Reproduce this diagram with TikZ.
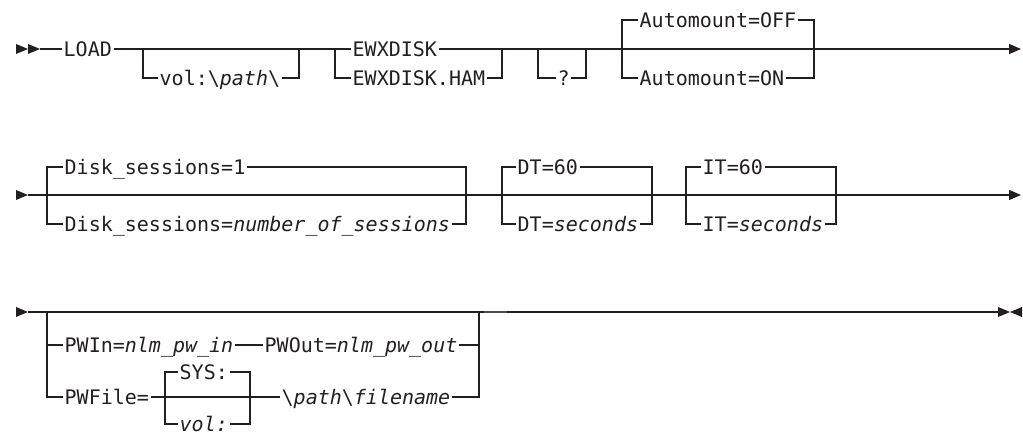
\documentclass[tikz,border=0pt]{standalone}
\usepackage{fontspec}
\usetikzlibrary{arrows.meta}
\newfontfamily\railfont{DejaVu Sans Mono}
\definecolor{ink}{HTML}{231F20}

\begin{document}
\begin{tikzpicture}[x=1pt,y=-1pt,
  rail/.style={draw=ink, line width=1.1pt, line join=miter},
  tag/.style={anchor=west, inner xsep=1.5pt, inner ysep=0pt,
    text height=18pt, text depth=3.4pt, text=ink,
    font={\railfont\fontsize{20pt}{24pt}\selectfont}},
  tip/.style={-{Triangle[length=12pt,width=10pt]}}]
\useasboundingbox (0,0) rectangle (1023,435);

% ---------- first line ----------
\coordinate (r1s) at (40,49);
\coordinate (r1e) at (1021,49);
\fill[ink] (16,44) -- (28,49) -- (16,54) -- cycle;
\fill[ink] (28,44) -- (40,49) -- (28,54) -- cycle;

\node[tag] (load) at (62,49) {LOAD};
\node[tag] (vol1) at (158,78) {vol:\textbackslash\textit{path}\textbackslash};
\coordinate (v1l) at (143,49);
\coordinate (v1r) at (299,49);

\node[tag] (ewx) at (351,49) {EWXDISK};
\node[tag] (ham) at (351,78) {EWXDISK.HAM};
\coordinate (e1l) at (335,49);
\coordinate (e1r) at (502,49);

\node[tag] (q) at (556,78) {?};
\coordinate (q1l) at (538,49);
\coordinate (q1r) at (586,49);

\node[tag] (aoff) at (638,20) {Automount=OFF};
\node[tag] (aon) at (638,78) {Automount=ON};
\coordinate (a1l) at (622,49);
\coordinate (a1r) at (814,49);

\draw[rail] (r1s) -- (load.west);
\draw[rail] (load.east) -- (ewx.west);
\draw[rail] (v1l) |- (vol1.west);
\draw[rail] (vol1.east) -| (v1r);
\draw[rail] (e1l) |- (ham.west);
\draw[rail] (ham.east) -| (e1r);
\draw[rail] (q1l) |- (q.west);
\draw[rail] (q.east) -| (q1r);
\draw[rail] (a1l) |- (aoff.west);
\draw[rail] (aoff.east) -| (a1r);
\draw[rail] (a1l) |- (aon.west);
\draw[rail] (aon.east) -| (a1r);
\draw[rail,tip] (ewx.east) -- (r1e);

% ---------- second line ----------
\coordinate (r2s) at (28,195);
\coordinate (r2e) at (1021,195);
\fill[ink] (16,190) -- (28,195) -- (16,200) -- cycle;

\node[tag] (ds1) at (63,167) {Disk\_sessions=1};
\node[tag] (dsn) at (63,224) {Disk\_sessions=\textit{number\_of\_sessions}};
\coordinate (d2l) at (47,195);
\coordinate (d2r) at (466,195);

\node[tag] (dt60) at (516,167) {DT=60};
\node[tag] (dts) at (516,224) {DT=\textit{seconds}};
\coordinate (t2l) at (502,195);
\coordinate (t2r) at (652,195);

\node[tag] (it60) at (701,167) {IT=60};
\node[tag] (its) at (701,224) {IT=\textit{seconds}};
\coordinate (i2l) at (686,195);
\coordinate (i2r) at (836,195);

\draw[rail,tip] (r2s) -- (r2e);
\foreach \l/\r/\a/\b in {d2l/d2r/ds1/dsn, t2l/t2r/dt60/dts, i2l/i2r/it60/its}{
  \draw[rail] (\l) |- (\a.west);
  \draw[rail] (\a.east) -| (\r);
  \draw[rail] (\l) |- (\b.west);
  \draw[rail] (\b.east) -| (\r);
}

% ---------- third line ----------
\coordinate (r3s) at (28,312);
\coordinate (r3e) at (998,312);
\fill[ink] (16,307) -- (28,312) -- (16,317) -- cycle;
\fill[ink] (998,307) -- (1010,312) -- (998,317) -- cycle;
\fill[ink] (1022,307) -- (1010,312) -- (1022,317) -- cycle;

\node[tag] (pwin) at (63,345) {PWIn=\textit{nlm\_pw\_in}};
\node[tag] (pwout) at (263,345) {PWOut=\textit{nlm\_pw\_out}};
\node[tag] (pwf) at (63,397) {PWFile=};
\node[tag] (sys) at (178,372) {SYS:};
\node[tag] (vol3) at (178,424) {\textit{vol:}};
\node[tag] (pth) at (280,397) {\textbackslash\textit{path}\textbackslash\textit{filename}};
\coordinate (p3l) at (47,312);
\coordinate (p3r) at (479,312);
\coordinate (s3l) at (165,397);
\coordinate (s3r) at (250,397);

\draw[rail] (r3s) -- (r3e);
\draw[draw=ink!80, line width=2.2pt] (484,312) -- (507,312);
\draw[rail] (p3l) |- (pwin.west);
\draw[rail] (pwin.east) -- (pwout.west);
\draw[rail] (pwout.east) -| (p3r);
\draw[rail] (p3l) |- (pwf.west);
\draw[rail] (pwf.east) -- (pth.west);
\draw[rail] (pth.east) -| (p3r);
\draw[rail] (s3l) |- (sys.west);
\draw[rail] (sys.east) -| (s3r);
\draw[rail] (s3l) |- (vol3.west);
\draw[rail] (vol3.east) -| (s3r);
\end{tikzpicture}
\end{document}
